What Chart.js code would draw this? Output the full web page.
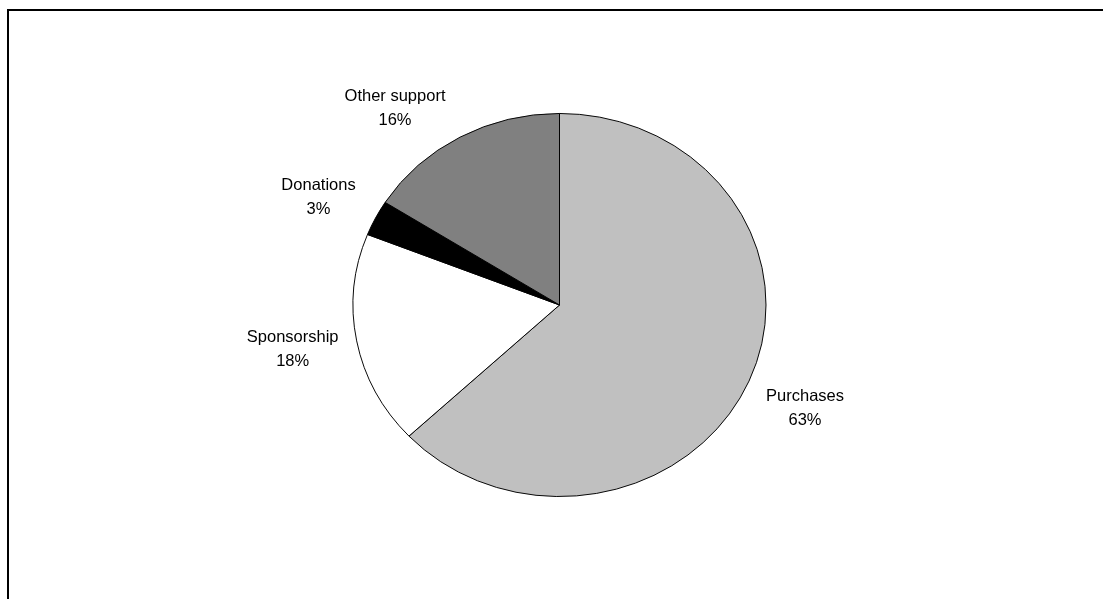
<!DOCTYPE html>
<html lang="en">

<head>
    <meta charset="UTF-8">
    <title>Income by source</title>
    <script src="https://cdn.jsdelivr.net/npm/chart.js"></script>
    <style>
        html, body { margin: 0; padding: 0; background: #fff; overflow: hidden; }
        .frame {
            position: absolute; left: 7px; top: 9px; width: 1200px; height: 700px;
            border-left: 2px solid #000; border-top: 2px solid #000;
        }
        .chart-box { position: absolute; left: 0; top: 0; width: 1103px; height: 599px; }
    </style>
</head>

<body>
    <div class="frame"></div>
    <div class="chart-box">
        <canvas id="sourceChart" width="1103" height="599"></canvas>
    </div>

    <script>
        // data
        const sources = ['Purchases', 'Sponsorship', 'Donations', 'Other support'];
        const shares = [63, 18, 3, 16];
        const sliceColors = ['#c0c0c0', '#ffffff', '#000000', '#808080'];

        // where each label sits relative to the slice's mid point on the rim
        const labelOffsets = [[56, 27], [-64, 9], [-57, -21], [-65, -29]];
        const squash = 192 / 207; // pie is drawn a bit flattened, like the original

        const ellipsePie = {
            id: 'ellipsePie',
            beforeDatasetsDraw(chart) {
                const arc = chart.getDatasetMeta(0).data[0];
                const ctx = chart.ctx;
                ctx.save();
                ctx.translate(arc.x, arc.y);
                ctx.scale(1, squash);
                ctx.translate(-arc.x, -arc.y);
            },
            afterDatasetsDraw(chart) {
                chart.ctx.restore();
            },
            afterDraw(chart) {
                const ctx = chart.ctx;
                const total = shares.reduce((a, b) => a + b, 0);
                ctx.save();
                ctx.font = '16.5px "Liberation Sans", Arial, sans-serif';
                ctx.fillStyle = '#000';
                ctx.textAlign = 'center';
                ctx.textBaseline = 'middle';
                chart.getDatasetMeta(0).data.forEach((arc, i) => {
                    const p = arc.getProps(['x', 'y', 'startAngle', 'endAngle', 'outerRadius'], true);
                    const mid = (p.startAngle + p.endAngle) / 2;
                    const px = p.x + Math.cos(mid) * p.outerRadius + labelOffsets[i][0];
                    const py = p.y + Math.sin(mid) * p.outerRadius * squash + labelOffsets[i][1];
                    ctx.fillText(sources[i], px, py - 12);
                    ctx.fillText(Math.round(shares[i] / total * 100) + '%', px, py + 12);
                });
                ctx.restore();
            }
        };

        const ctx = document.getElementById('sourceChart').getContext('2d');
        new Chart(ctx, {
            type: 'pie',
            data: {
                labels: sources,
                datasets: [{
                    data: shares,
                    backgroundColor: sliceColors,
                    borderColor: '#000',
                    borderWidth: 1
                }]
            },
            options: {
                responsive: false,
                animation: false,
                layout: { padding: { left: 16, right: 0, top: 98, bottom: 87 } },
                plugins: {
                    legend: { display: false },
                    tooltip: { enabled: false }
                }
            },
            plugins: [ellipsePie]
        });
    </script>
</body>

</html>
